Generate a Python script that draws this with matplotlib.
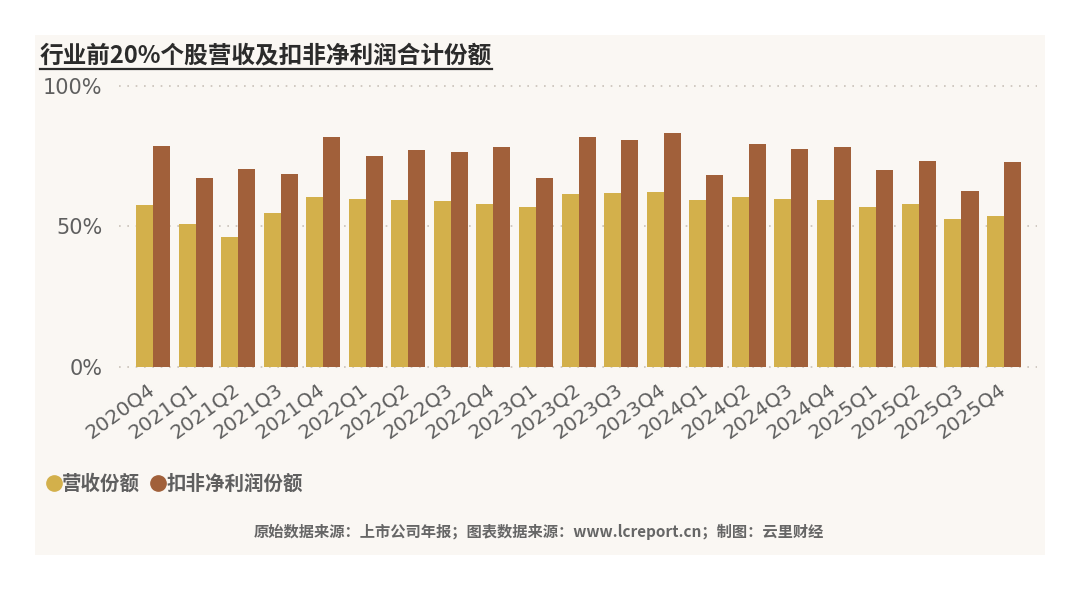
import matplotlib
matplotlib.use('Agg')
import matplotlib.pyplot as plt
import matplotlib.transforms as mtransforms
import numpy as np
from matplotlib.lines import Line2D
from matplotlib.patches import Rectangle

plt.rcParams['font.family'] = ['DejaVu Sans', 'Noto Sans CJK SC']

quarters = ['2020Q4', '2021Q1', '2021Q2', '2021Q3', '2021Q4', '2022Q1', '2022Q2',
            '2022Q3', '2022Q4', '2023Q1', '2023Q2', '2023Q3', '2023Q4', '2024Q1',
            '2024Q2', '2024Q3', '2024Q4', '2025Q1', '2025Q2', '2025Q3', '2025Q4']
revenue_share = [57.6, 50.9, 46.3, 54.7, 60.6, 59.8, 59.5, 59.1, 58.1, 56.9, 61.6,
                 62.0, 62.3, 59.5, 60.6, 59.8, 59.3, 56.9, 57.9, 52.7, 53.7]
profit_share = [78.8, 67.3, 70.3, 68.7, 81.7, 75.1, 77.3, 76.4, 78.3, 67.3, 81.7,
                80.8, 83.3, 68.2, 79.4, 77.5, 78.2, 70.2, 73.4, 62.5, 72.9]
y_ticks = [0, 50, 100]

title = '行业前20%个股营收及扣非净利润合计份额'
series_names = ['营收份额', '扣非净利润份额']
footer = '原始数据来源：上市公司年报；图表数据来源：www.lcreport.cn；制图：云里财经'

gold = '#D3B04B'
brown = '#A1603A'
panel_bg = '#FAF7F3'
text_gray = '#5f5f5f'

fig = plt.figure(figsize=(10.8, 5.89), dpi=100)
fig.patch.set_facecolor('white')
fig.patches.append(Rectangle((0.0324, 0.0577), 0.935, 0.883, transform=fig.transFigure,
                             facecolor=panel_bg, edgecolor='none', zorder=-5))

ax = fig.add_axes([0.110, 0.377, 0.850, 0.477])
ax.set_facecolor('none')
ax.set_zorder(2)

x = np.arange(len(quarters))
w = 0.4
ax.bar(x - w / 2, revenue_share, width=w, color=gold, zorder=3)
ax.bar(x + w / 2, profit_share, width=w, color=brown, zorder=3)

ax.set_xlim(-0.806, 20.77)
ax.set_ylim(0, 100)
ax.set_yticks(y_ticks)
ax.set_yticklabels([f'{v}%' for v in y_ticks], family='DejaVu Sans')
for v in y_ticks:
    ax.axhline(v, color='#c9c1b9', linestyle=(0, (1, 4)), linewidth=1.2, zorder=1,
               clip_on=False)

ax.set_xticks(x)
ax.set_xticklabels(quarters, rotation=36, ha='right', rotation_mode='anchor',
                   family='DejaVu Sans')
ax.tick_params(axis='x', length=0, pad=9, labelsize=14.5, labelcolor=text_gray)
ax.tick_params(axis='y', length=0, pad=12, labelsize=15, labelcolor=text_gray)
shift = mtransforms.ScaledTranslation(-6 / 100, 0, fig.dpi_scale_trans)
for lab in ax.get_xticklabels():
    lab.set_transform(lab.get_transform() + shift)
for spine in ax.spines.values():
    spine.set_visible(False)

# title with underline
t = fig.text(0.037, 0.906, title, fontsize=17, fontweight='bold', color='#2b2b2b',
             va='center', ha='left', family=['Noto Sans CJK SC'])
fig.canvas.draw()
bb = t.get_window_extent().transformed(fig.transFigure.inverted())
fig.add_artist(Line2D([bb.x0, bb.x1], [bb.y0 - 0.002, bb.y0 - 0.002],
                      transform=fig.transFigure, color='#2b2b2b', linewidth=1.6))

handles = [Line2D([], [], marker='o', linestyle='none', markersize=11, color=gold),
           Line2D([], [], marker='o', linestyle='none', markersize=11, color=brown)]
leg = fig.legend(handles, series_names, loc='center left', bbox_to_anchor=(0.028, 0.178),
                 ncol=2, frameon=False, handlelength=0.6, handletextpad=0.15,
                 columnspacing=0.6, prop={'family': 'Noto Sans CJK SC', 'weight': 'bold',
                                          'size': 14})
for txt in leg.get_texts():
    txt.set_color(text_gray)

fig.text(0.499, 0.097, footer, fontsize=11, fontweight='bold', color='#666666',
         ha='center', va='center', family=['Noto Sans CJK SC'])

fig.savefig('out.png', dpi=100, facecolor='white')
